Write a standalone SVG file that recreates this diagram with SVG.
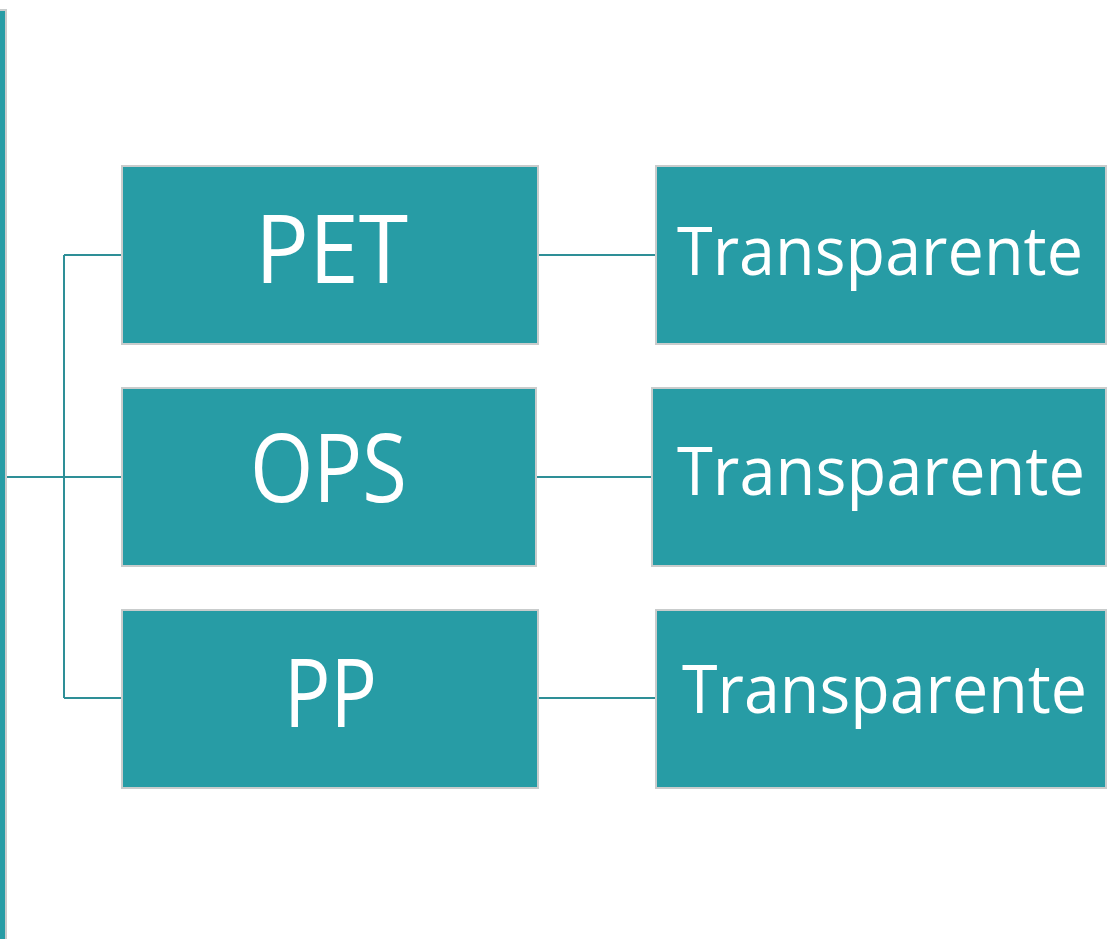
<svg xmlns="http://www.w3.org/2000/svg" width="1108" height="939" viewBox="0 0 1108 939">
<style>
.box{fill:#279ca5;stroke:#c9cccc;stroke-width:2}
.big{font-family:"Open Sans","Noto Sans",sans-serif;font-size:95px;fill:#ffffff}
.mid{font-family:"Open Sans","Noto Sans",sans-serif;font-size:68px;fill:#ffffff}
.con{fill:none;stroke:#2e8f97;stroke-width:2}
</style>
<rect width="1108" height="939" fill="#ffffff"/>
<g id="root-bar">
<rect x="-4" y="10" width="10" height="935" class="box"/>
</g>
<g id="connectors">
<path class="con" d="M7 477 H122"/>
<path class="con" d="M64 255 V698"/>
<path class="con" d="M64 255 H122"/>
<path class="con" d="M64 698 H122"/>
<path class="con" d="M538 255 H656"/>
<path class="con" d="M536 477 H652"/>
<path class="con" d="M538 698 H656"/>
</g>
<g id="node-pet">
<rect x="122" y="166" width="416" height="178" class="box"/>
<text x="255" y="283" class="big" textLength="153" lengthAdjust="spacingAndGlyphs">PET</text>
</g>
<g id="node-ops">
<rect x="122" y="388" width="414" height="178" class="box"/>
<text x="250" y="502" class="big" textLength="157" lengthAdjust="spacingAndGlyphs">OPS</text>
</g>
<g id="node-pp">
<rect x="122" y="610" width="416" height="178" class="box"/>
<text x="284" y="727" class="big" textLength="93" lengthAdjust="spacingAndGlyphs">PP</text>
</g>
<g id="node-t1">
<rect x="656" y="166" width="450" height="178" class="box"/>
<text x="677" y="275" class="mid" textLength="406" lengthAdjust="spacingAndGlyphs">Transparente</text>
</g>
<g id="node-t2">
<rect x="652" y="388" width="454" height="178" class="box"/>
<text x="677" y="495" class="mid" textLength="408" lengthAdjust="spacingAndGlyphs">Transparente</text>
</g>
<g id="node-t3">
<rect x="656" y="610" width="450" height="178" class="box"/>
<text x="682" y="713" class="mid" textLength="405" lengthAdjust="spacingAndGlyphs">Transparente</text>
</g>
</svg>
